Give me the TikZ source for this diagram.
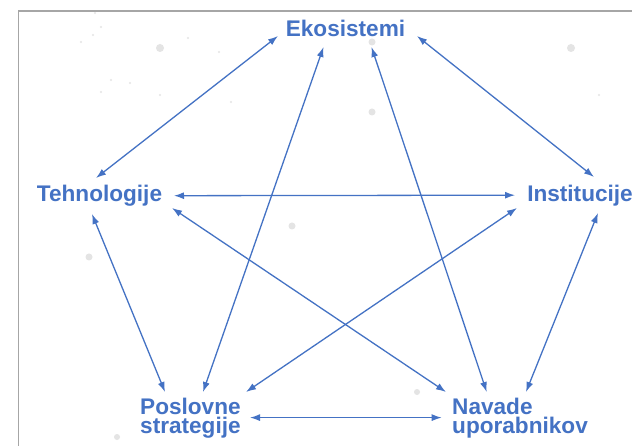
\documentclass[tikz,border=0pt]{standalone}
\usepackage{fontspec}
\setmainfont{Liberation Sans}
\usetikzlibrary{arrows.meta}
\definecolor{lblue}{HTML}{4472C4}
\definecolor{frame}{HTML}{A6A6A6}
\begin{document}
\begin{tikzpicture}[x=1pt,y=-1pt,
  lbl/.style={inner sep=0pt, text=lblue, font=\fontsize{22.6}{19}\selectfont\bfseries},
  link/.style={draw=lblue, line width=1.3pt, {Latex[length=10pt,width=7pt]}-{Latex[length=10pt,width=7pt]}},
  speck/.style={fill=black!35, draw=none, opacity=0.3}]
\useasboundingbox (0,0) rectangle (632,446);
\fill[white] (0,0) rectangle (632,446);
% background specks
\foreach \x/\y/\r in {160/48/4, 571/48/4, 372/42/3.5, 372/112/3.5, 89/257/3.5, 292/226/3.5,
  290/23/3, 417/392/3, 117/437/3, 95/13/1.2, 101/27/1.2, 93/35/1.2, 81/42/1.2, 188/38/1.2,
  219/52/1.2, 111/80/1.2, 130/83/1.2, 101/92/1.2, 160/95/1.2, 231/102/1.2, 599/95/1.2}
  \fill[speck] (\x,\y) circle (\r);
% frame
\draw[frame, line width=1.5pt] (18.5,446) -- (18.5,11) -- (632,11);
% labels
\node[lbl, anchor=base] (eko) at (345.5,36.7) {Ekosistemi};
\node[lbl, anchor=base] (teh) at (99.5,201.7) {Tehnologije};
\node[lbl, anchor=base] (inst) at (580,201.7) {Institucije};
\node[lbl, anchor=west, align=left] (posl) at (140,418.3) {Poslovne\\strategije};
\node[lbl, anchor=west, align=left] (nav) at (452,418.3) {Navade\\uporabnikov};
% connectors
\draw[link] ([shift={(-67.5,-0.7)}]eko.base) -- ([shift={(-3.5,-23.7)}]teh.base);
\draw[link] ([shift={(-22,10.3)}]eko.base) -- ([shift={(63,-26.3)}]posl.west);
\draw[link] ([shift={(26,10.3)}]eko.base) -- ([shift={(34.7,-26.3)}]nav.west);
\draw[link] ([shift={(71.5,-0.7)}]eko.base) -- ([shift={(14,-24.7)}]inst.base);
\draw[link] ([shift={(74.5,-6)}]teh.base) -- ([shift={(-65,-6.5)}]inst.base);
\draw[link] ([shift={(72.5,6.3)}]teh.base) -- ([shift={(-6,-26.3)}]nav.west);
\draw[link] ([shift={(-7.5,12.3)}]teh.base) -- ([shift={(25,-26.3)}]posl.west);
\draw[link] ([shift={(-63,6.3)}]inst.base) -- ([shift={(106,-26.3)}]posl.west);
\draw[link] ([shift={(18,11.3)}]inst.base) -- ([shift={(74,-26.3)}]nav.west);
\draw[link] ([shift={(110,-0.7)}]posl.west) -- ([shift={(-10.3,-0.7)}]nav.west);
\end{tikzpicture}
\end{document}
